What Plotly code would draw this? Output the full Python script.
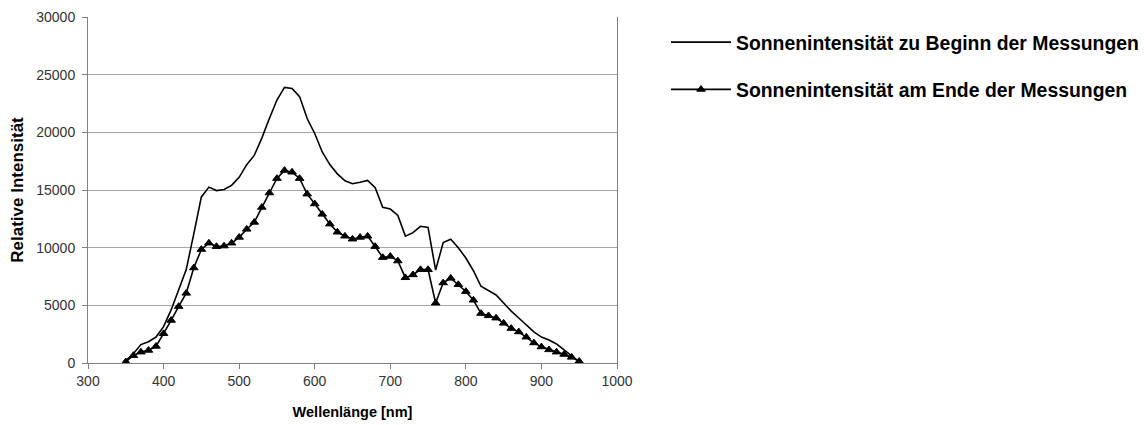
import plotly.graph_objects as go

# Wavelength grid (nm)
wavelength = list(range(350, 951, 10))

# Relative solar intensity at the start of the measurements
intensity_start = [
    200, 800, 1600, 1850, 2250, 3150, 4600, 6350, 8100, 11200,
    14400, 15250, 14950, 15050, 15400, 16100, 17200, 18000, 19500, 21200,
    22800, 23900, 23800, 23100, 21200, 19900, 18300, 17200, 16400, 15800,
    15550, 15680, 15830, 15200, 13500, 13350, 12800, 11000, 11300, 11850,
    11750, 8050, 10450, 10730, 10000, 9100, 8000, 6650, 6300, 5900,
    5200, 4500, 3900, 3300, 2700, 2250, 2000, 1650, 1150, 650,
    100,
]

# Relative solar intensity at the end of the measurements
intensity_end = [
    100, 650, 950, 1100, 1450, 2550, 3700, 4900, 6050, 8250,
    9850, 10400, 10100, 10150, 10400, 10900, 11600, 12200, 13500, 14750,
    16000, 16700, 16550, 16000, 14650, 13800, 12900, 12050, 11350, 11000,
    10750, 10900, 11000, 10100, 9150, 9250, 8850, 7400, 7650, 8100,
    8100, 5200, 6950, 7350, 6800, 6200, 5450, 4300, 4100, 3900,
    3450, 3000, 2700, 2250, 1750, 1400, 1150, 950, 750, 500,
    150,
]

x_ticks = [300, 400, 500, 600, 700, 800, 900, 1000]
y_ticks = [0, 5000, 10000, 15000, 20000, 25000, 30000]

FONT = "Liberation Sans, Arial, sans-serif"

fig = go.Figure()
fig.add_trace(go.Scatter(
    x=wavelength, y=intensity_start, mode="lines",
    name="Sonnenintensität zu Beginn der Messungen",
    legendgroup="a",
    line=dict(color="black", width=1.6),
))
fig.add_trace(go.Scatter(
    x=wavelength, y=intensity_end, mode="lines+markers",
    name="Sonnenintensität am Ende der Messungen",
    legendgroup="b",
    line=dict(color="black", width=1.6),
    marker=dict(symbol="triangle-up", size=7.5, color="black",
                line=dict(color="black", width=1)),
))

fig.update_layout(
    width=1148, height=425,
    margin=dict(l=87.5, r=530.5, t=17, b=61.7, pad=0, autoexpand=False),
    paper_bgcolor="white", plot_bgcolor="white",
    font=dict(family=FONT, color="black"),
    showlegend=True,
    legend=dict(
        xref="container", yref="container",
        x=666 / 1148, y=1 - 23 / 425, xanchor="left", yanchor="top",
        font=dict(size=19.4, family=FONT, color="black", weight="bold"),
        itemwidth=60,
        traceorder="grouped",
        tracegroupgap=19,
        bgcolor="rgba(0,0,0,0)",
    ),
    xaxis=dict(
        range=[300, 1000], tickvals=x_ticks, ticktext=[str(v) for v in x_ticks],
        showgrid=False, zeroline=False,
        showline=True, linecolor="#7f7f7f", linewidth=1,
        ticks="outside", ticklen=5, tickcolor="#7f7f7f",
        tickfont=dict(size=14, color="#333333"),
        title=dict(text="Wellenlänge [nm]", standoff=19,
                   font=dict(size=14.5, color="black", weight="bold")),
    ),
    yaxis=dict(
        range=[0, 30000], tickvals=y_ticks, ticktext=[str(v) for v in y_ticks],
        showgrid=True, gridcolor="#a6a6a6", gridwidth=1,
        zeroline=False,
        showline=True, linecolor="#7f7f7f", linewidth=1, mirror=True,
        ticks="outside", ticklen=5, tickcolor="#7f7f7f",
        ticklabelstandoff=4,
        tickfont=dict(size=14, color="#333333"),
        title=dict(text="Relative Intensität", standoff=8,
                   font=dict(size=17, color="black", weight="bold")),
    ),
)

fig.write_html("out.html")
